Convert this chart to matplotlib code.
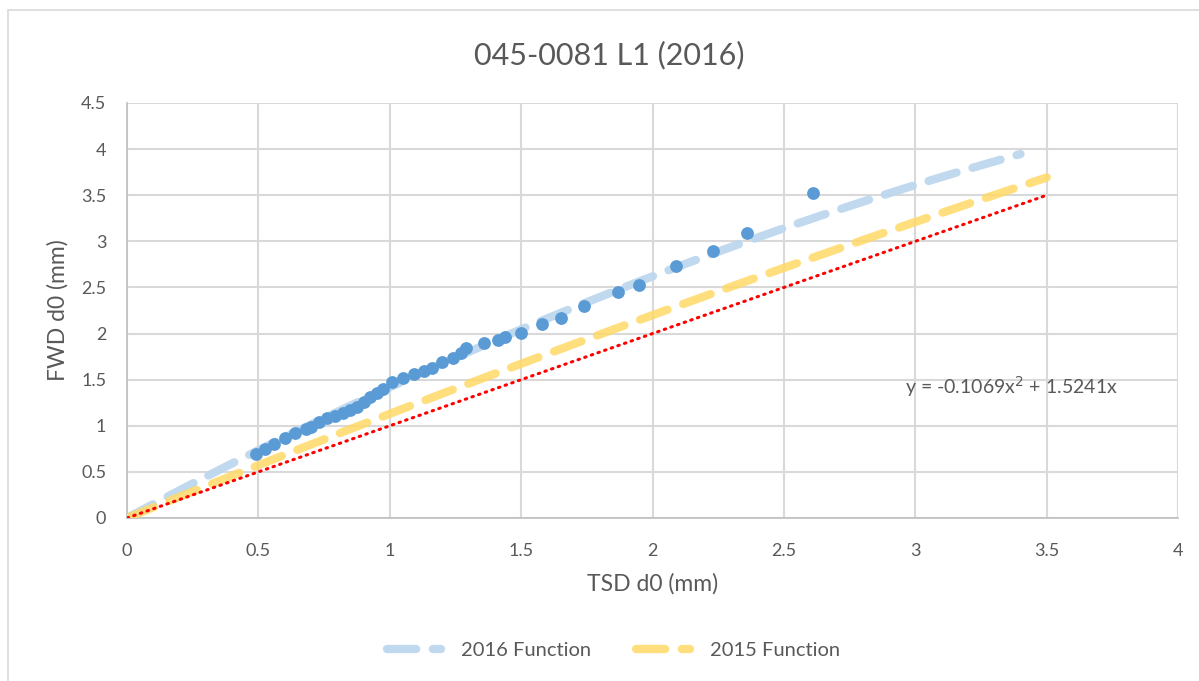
import matplotlib.pyplot as plt
import numpy as np
from matplotlib.patches import Rectangle

plt.rcParams.update({
    "font.family": ["Lato", "DejaVu Sans"],
    "text.color": "#595959",
    "axes.labelcolor": "#595959",
    "xtick.color": "#595959",
    "ytick.color": "#595959",
})

# measured points (TSD d0, FWD d0) in mm
tsd = [0.49, 0.525, 0.56, 0.60, 0.64, 0.68, 0.70, 0.73, 0.76, 0.79,
       0.82, 0.85, 0.875, 0.90, 0.925, 0.95, 0.975, 1.01, 1.05, 1.09,
       1.13, 1.16, 1.20, 1.24, 1.27, 1.29, 1.36, 1.41, 1.44, 1.50,
       1.58, 1.65, 1.74, 1.87, 1.95, 2.09, 2.23, 2.36, 2.61]
fwd = [0.69, 0.75, 0.80, 0.87, 0.92, 0.97, 0.99, 1.04, 1.08, 1.11,
       1.14, 1.17, 1.20, 1.26, 1.31, 1.36, 1.40, 1.47, 1.52, 1.56,
       1.59, 1.63, 1.69, 1.74, 1.79, 1.84, 1.90, 1.93, 1.96, 2.01,
       2.10, 2.17, 2.30, 2.45, 2.53, 2.73, 2.89, 3.09, 3.52]

# trend functions (coefficients of a*x^2 + b*x)
coef_2016 = (-0.1069, 1.5241)
coef_2015 = (-0.03, 1.16)
x_end_2016 = 3.4
x_end_2015 = 3.5
x_end_equal = 3.5

fig = plt.figure(figsize=(11.99, 6.81), dpi=100)
ax = fig.add_axes([0.106, 0.2394, 0.8766, 0.6094])

x16 = np.linspace(0, x_end_2016, 200)
x15 = np.linspace(0, x_end_2015, 200)
ax.plot(x16, coef_2016[0] * x16**2 + coef_2016[1] * x16, color="#BDD7EE",
        lw=6, ls=(0, (3.5, 2)), dash_capstyle="round", alpha=0.95,
        label="2016 Function", zorder=3)
ax.plot(x15, coef_2015[0] * x15**2 + coef_2015[1] * x15, color="#FFD966",
        lw=6, ls=(0, (3.5, 2)), dash_capstyle="round", alpha=0.85,
        label="2015 Function", zorder=3)
ax.plot([0, x_end_equal], [0, x_end_equal], color="#FF0000", lw=2.2,
        ls=(0, (0.5, 1.8)), dash_capstyle="round", zorder=4)
ax.scatter(tsd, fwd, s=85, color="#5B9BD5", zorder=5, linewidths=0)

ax.set_xlim(0, 4)
ax.set_ylim(0, 4.5)
ax.set_xticks(np.arange(0, 4.01, 0.5))
ax.set_yticks(np.arange(0, 4.51, 0.5))
ax.set_xticklabels(["0", "0.5", "1", "1.5", "2", "2.5", "3", "3.5", "4"])
ax.set_yticklabels(["0", "0.5", "1", "1.5", "2", "2.5", "3", "3.5", "4", "4.5"])
ax.tick_params(axis="x", length=0, labelsize=13, pad=18)
ax.tick_params(axis="y", length=0, labelsize=13, pad=15)
ax.grid(True, color="#D9D9D9", lw=1.5)
ax.set_axisbelow(True)
for side in ["top", "right"]:
    ax.spines[side].set_visible(False)
for side in ["left", "bottom"]:
    ax.spines[side].set_color("#BFBFBF")
    ax.spines[side].set_linewidth(1.2)

ax.set_xlabel("TSD d0 (mm)", fontsize=16.5, labelpad=10)
ax.set_ylabel("FWD d0 (mm)", fontsize=16.5, va="center")
ax.yaxis.set_label_coords(-0.0657, 0.5)
fig.text(0.508, 1 - 55 / 681, "045-0081 L1 (2016)", fontsize=22,
         ha="center", va="center", color="#595959")

ax.text(2.96, 1.43, "y = -0.1069x$^2$ + 1.5241x", fontsize=14,
        color="#595959", va="center")

ax.legend(loc="upper center", bbox_to_anchor=(0.463, -0.255), ncol=2,
          frameon=False, fontsize=14.5, handlelength=2.7, handletextpad=1.0,
          columnspacing=2.2)

fig.add_artist(Rectangle((8 / 1199, -0.1), 1.1, 1 - 10 / 681 + 0.1,
                         transform=fig.transFigure, fill=False,
                         edgecolor="#D9D9D9", lw=1.2))

fig.savefig("out.png", dpi=100)
